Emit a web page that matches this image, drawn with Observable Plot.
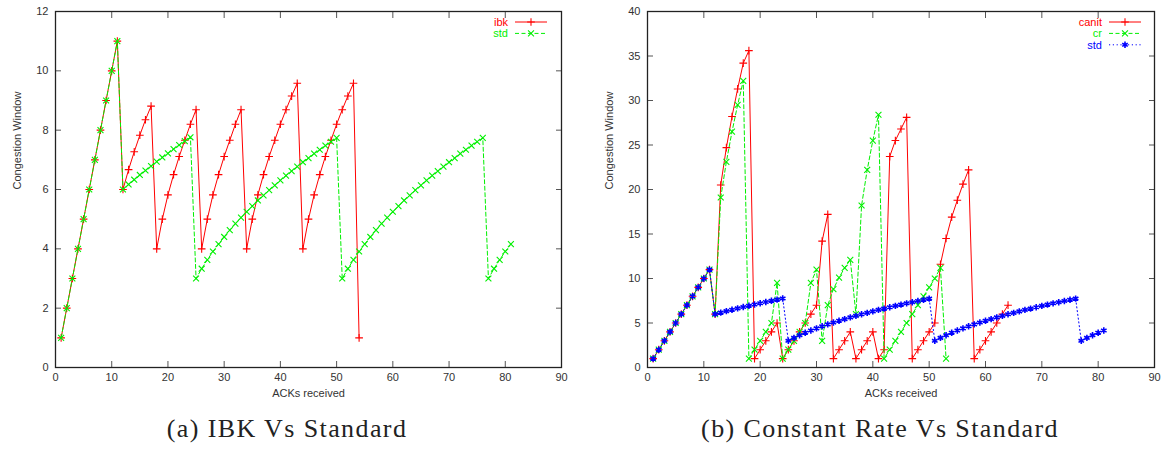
<!DOCTYPE html>
<html>
<head>
<meta charset="utf-8">
<script src="https://cdn.jsdelivr.net/npm/d3@7"></script>
<script src="https://cdn.jsdelivr.net/npm/@observablehq/plot@0.6"></script>
<style>
  html, body { margin: 0; padding: 0; background: #fff; }
  #wrap { position: relative; width: 1175px; height: 450px; overflow: hidden; }
  .panel { position: absolute; top: 0; }
  .caption { position: absolute; top: 414px; font-family: "Liberation Serif", serif; font-size: 26px; color: #222; white-space: nowrap; transform: translateX(-50%); letter-spacing: 1.4px; }
</style>
</head>
<body>
<div id="wrap">
  <div class="panel" id="left" style="left:0px"></div>
  <div class="panel" id="right" style="left:592px"></div>
  <div class="caption" style="left:287px">(a) IBK Vs Standard</div>
  <div class="caption" style="left:880px">(b) Constant Rate Vs Standard</div>
</div>
<script>
// ---- data (cwnd after each ACK, starting at ACK 1) ----
const xTicks = [0, 10, 20, 30, 40, 50, 60, 70, 80, 90];
const yTicksLeft = [0, 2, 4, 6, 8, 10, 12];
const yTicksRight = [0, 5, 10, 15, 20, 25, 30, 35, 40];
const xLabel = "ACKs received";
const yLabel = "Congestion Window";

const ibk = [1,2,3,4,5,6,7,8,9,10,11,
  6,6.67,7.27,7.83,8.35,8.81,
  4,5,5.82,6.5,7.11,7.66,8.2,8.69,
  4,5,5.82,6.5,7.11,7.66,8.2,8.69,
  4,5,5.82,6.5,7.11,7.66,8.2,8.69,9.15,9.58,
  4,5,5.82,6.5,7.11,7.66,8.2,8.69,9.15,9.58,
  1];

const stdCwnd = [1,2,3,4,5,6,7,8,9,10,11,
  6,6.17,6.33,6.49,6.64,6.79,6.94,7.08,7.22,7.36,7.5,7.63,7.76,
  3,3.33,3.63,3.91,4.16,4.4,4.63,4.85,5.05,5.25,5.44,5.63,5.8,5.98,6.14,6.31,6.47,6.62,6.77,6.92,7.06,7.21,7.34,7.48,7.61,7.74,
  3,3.33,3.63,3.91,4.16,4.4,4.63,4.85,5.05,5.25,5.44,5.63,5.8,5.98,6.14,6.31,6.47,6.62,6.77,6.92,7.06,7.21,7.34,7.48,7.61,7.74,
  3,3.33,3.63,3.91,4.16];

const canit = [1,2,3,4,5,6,7,8,9,10,11,
  6,20.5,24.7,28.2,31.3,34.2,35.6,
  1,2,3,4,5,
  1,2,3,4,5,6,7,14.2,17.2,
  1,2,3,4,
  1,2,3,4,
  1,2,23.7,25.5,26.8,28.1,
  1,2,3,4,5,11.6,14.5,16.9,18.8,20.6,22.2,
  1,2,3,4,5,6,7];

const cr = [1,2,3,4,5,6,7,8,9,10,11,
  6,19.1,23.1,26.5,29.5,32.2,
  1,2,3,4,5,9.5,
  1,2,3,4,5,9.5,11,
  3,7,8.8,10.1,11.2,12.1,
  6,18.2,22.2,25.5,28.4,
  1,2,3,4,5,6,7,8,9,10,11.2,
  1];

const RED = "#ff0000", GREEN = "#00f000", BLUE = "#0000ff";

const rows = arr => arr.map((v, i) => ({ack: i + 1, cwnd: v}));

const styles = {
  ibk:   {color: RED,   dash: null,      symbol: "plus",     r: 2.6, sw: 1.1},
  canit: {color: RED,   dash: null,      symbol: "plus",     r: 2.6, sw: 1.1},
  std:   {color: GREEN, dash: "4,2.5",   symbol: "times",    r: 2.8, sw: 1.1},
  cr:    {color: GREEN, dash: "4,2.5",   symbol: "times",    r: 2.8, sw: 1.1},
  stdB:  {color: BLUE,  dash: "1.2,2.6", symbol: "asterisk", r: 3.0, sw: 1.6}
};

const d3sym = {plus: d3.symbolPlus, times: d3.symbolTimes, asterisk: d3.symbolAsterisk};

function seriesMarks(arr, st) {
  const data = rows(arr);
  return [
    Plot.line(data, {x: "ack", y: "cwnd", stroke: st.color, strokeWidth: 1, strokeDasharray: st.dash}),
    Plot.dot(data, {x: "ack", y: "cwnd", symbol: st.symbol, stroke: st.color, r: st.r, strokeWidth: st.sw, fill: "none"})
  ];
}

function legendMark(entries, rightOffset) {
  return (index, scales, values, dims) => {
    const g = d3.create("svg:g");
    const xr = dims.width - dims.marginRight - rightOffset;
    entries.forEach((e, i) => {
      const y = dims.marginTop + 11 + i * 11.4;
      g.append("text").attr("x", xr).attr("y", y).attr("dy", "0.35em")
        .attr("text-anchor", "end").attr("fill", e.st.color)
        .attr("font-family", "Liberation Sans, sans-serif").attr("font-size", 11)
        .text(e.name);
      g.append("line").attr("x1", xr + 7).attr("x2", xr + 39).attr("y1", y).attr("y2", y)
        .attr("stroke", e.st.color).attr("stroke-width", 1)
        .attr("stroke-dasharray", e.st.dash);
      const size = Math.PI * e.st.r * e.st.r;
      g.append("path").attr("d", d3.symbol(d3sym[e.st.symbol], size)())
        .attr("transform", `translate(${xr + 23},${y})`)
        .attr("fill", "none").attr("stroke", e.st.color).attr("stroke-width", e.st.sw);
    });
    return g.node();
  };
}

function makeChart({width, marginLeft, marginRight, yDomain, yTicks, series, legend, legendOffset}) {
  return Plot.plot({
    width, height: 410,
    marginLeft, marginRight, marginTop: 11, marginBottom: 43,
    x: {domain: [0, 90]},
    y: {domain: yDomain},
    style: {fontFamily: "Liberation Sans, sans-serif", fontSize: "11px", color: "#333", background: "transparent", overflow: "visible"},
    marks: [
      Plot.axisX({ticks: xTicks, tickSize: -6, tickPadding: 12, label: null, stroke: "#555"}),
      Plot.axisX({anchor: "top", ticks: xTicks, tickSize: -6, tickFormat: () => "", label: null, stroke: "#555"}),
      Plot.axisY({ticks: yTicks, tickSize: -6, tickPadding: 13, label: null, stroke: "#555"}),
      Plot.axisY({anchor: "right", ticks: yTicks, tickSize: -6, tickFormat: () => "", label: null, stroke: "#555"}),
      Plot.text([xLabel], {frameAnchor: "bottom", dy: 29, text: d => d, fill: "#333", fontSize: 11}),
      Plot.text([yLabel], {frameAnchor: "left", dx: -38, rotate: -90, text: d => d, fill: "#333", fontSize: 11}),
      ...series.flatMap(([arr, st]) => seriesMarks(arr, st)),
      Plot.frame({stroke: "#222", strokeWidth: 1.3}),
      legendMark(legend, legendOffset)
    ]
  });
}

document.getElementById("left").appendChild(makeChart({
  width: 575, marginLeft: 55, marginRight: 14,
  yDomain: [0, 12], yTicks: yTicksLeft,
  series: [[ibk, styles.ibk], [stdCwnd, styles.std]],
  legend: [{name: "ibk", st: styles.ibk}, {name: "std", st: styles.std}],
  legendOffset: 53
}));

document.getElementById("right").appendChild(makeChart({
  width: 583, marginLeft: 55, marginRight: 21,
  yDomain: [0, 40], yTicks: yTicksRight,
  series: [[canit, styles.canit], [cr, styles.cr], [stdCwnd, styles.stdB]],
  legend: [{name: "canit", st: styles.canit}, {name: "cr", st: styles.cr}, {name: "std", st: styles.stdB}],
  legendOffset: 52
}));
</script>
</body>
</html>
